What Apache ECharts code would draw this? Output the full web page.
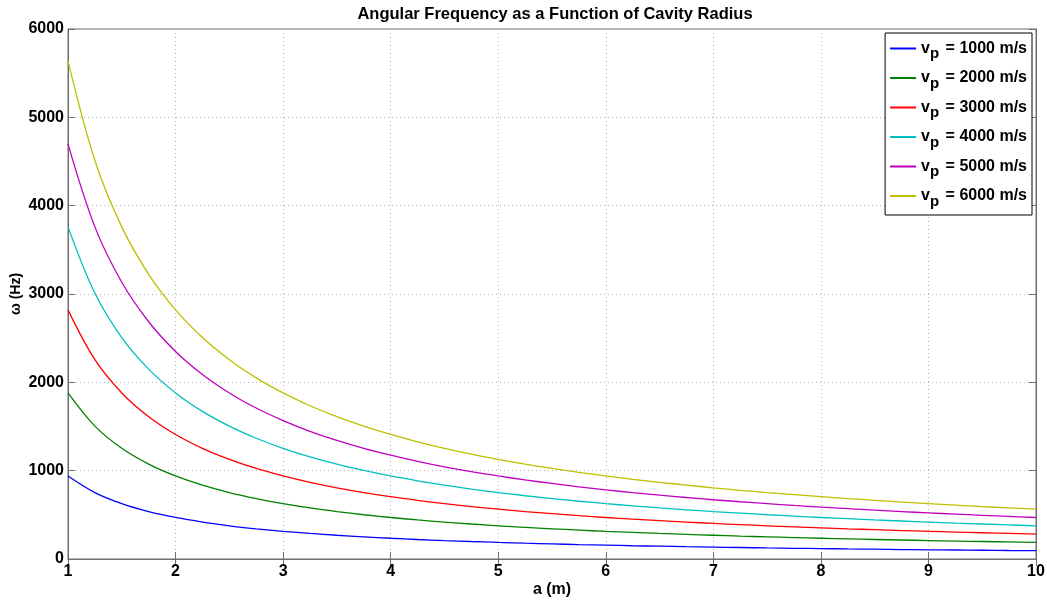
<!DOCTYPE html>
<html>
<head>
<meta charset="utf-8">
<script src="https://cdn.jsdelivr.net/npm/echarts@6/dist/echarts.min.js"></script>
<style>
html, body { margin: 0; padding: 0; background: #fff; }
#main { width: 1047px; height: 602px; }
</style>
</head>
<body>
<div id="main"></div>
<script>
// cavity radius a (m), every 0.25 m
var radius = [1, 1.25, 1.5, 1.75, 2, 2.25, 2.5, 2.75, 3, 3.25, 3.5, 3.75, 4, 4.25, 4.5, 4.75, 5, 5.25, 5.5, 5.75,
    6, 6.25, 6.5, 6.75, 7, 7.25, 7.5, 7.75, 8, 8.25, 8.5, 8.75, 9, 9.25, 9.5, 9.75, 10];
// angular frequency (Hz)
var w1000 = [940, 752, 627, 537, 470, 418, 376, 342, 313, 289, 269, 251, 235, 221, 209, 198, 188, 179, 171, 163,
    157, 150, 145, 139, 134, 130, 125, 121, 118, 114, 111, 107, 104, 102, 99, 96, 94];
var w2000 = [1880, 1504, 1253, 1074, 940, 836, 752, 684, 627, 578, 537, 501, 470, 442, 418, 396, 376, 358, 342, 327,
    313, 301, 289, 279, 269, 259, 251, 243, 235, 228, 221, 215, 209, 203, 198, 193, 188];
var w3000 = [2820, 2256, 1880, 1611, 1410, 1253, 1128, 1025, 940, 868, 806, 752, 705, 664, 627, 594, 564, 537, 513, 490,
    470, 451, 434, 418, 403, 389, 376, 364, 353, 342, 332, 322, 313, 305, 297, 289, 282];
var w4000 = [3760, 3008, 2507, 2149, 1880, 1671, 1504, 1367, 1253, 1157, 1074, 1003, 940, 885, 836, 792, 752, 716, 684, 654,
    627, 602, 578, 557, 537, 519, 501, 485, 470, 456, 442, 430, 418, 406, 396, 386, 376];
var w5000 = [4700, 3760, 3133, 2686, 2350, 2089, 1880, 1709, 1567, 1446, 1343, 1253, 1175, 1106, 1044, 989, 940, 895, 855, 817,
    783, 752, 723, 696, 671, 648, 627, 606, 588, 570, 553, 537, 522, 508, 495, 482, 470];
var w6000 = [5640, 4512, 3760, 3223, 2820, 2507, 2256, 2051, 1880, 1735, 1611, 1504, 1410, 1327, 1253, 1187, 1128, 1074, 1025, 981,
    940, 902, 868, 836, 806, 778, 752, 728, 705, 684, 664, 645, 627, 610, 594, 578, 564];

var speeds = ['1000', '2000', '3000', '4000', '5000', '6000'];
var values = [w1000, w2000, w3000, w4000, w5000, w6000];
var colors = ['#0000ff', '#008000', '#ff0000', '#00bfbf', '#bf00bf', '#bfbf00'];

var font = 'Liberation Sans, Arial, sans-serif';
var axisGray = '#6e6e6e';

function pairs(ys) {
    return radius.map(function (a, i) { return [a, ys[i]]; });
}

var series = speeds.map(function (s, i) {
    return {
        name: s,
        type: 'line',
        data: pairs(values[i]),
        showSymbol: false,
        symbol: 'none',
        smooth: 0.35,
        lineStyle: { color: colors[i], width: 1.3 },
        itemStyle: { color: colors[i] }
    };
});

var tickLabel = { color: '#000', fontFamily: font, fontWeight: 'bold', fontSize: 16 };

var chart = echarts.init(document.getElementById('main'));
chart.setOption({
    backgroundColor: '#fff',
    animation: false,
    title: {
        text: 'Angular Frequency as a Function of Cavity Radius',
        left: 550,
        textAlign: 'center',
        top: 1,
        textStyle: { color: '#000', fontFamily: font, fontWeight: 'bold', fontSize: 16.5 }
    },
    legend: {
        orient: 'vertical',
        right: 15,
        top: 33,
        padding: [5, 5, 6, 5],
        itemGap: 6,
        itemWidth: 26,
        itemHeight: 2,
        icon: 'rect',
        backgroundColor: '#fff',
        borderColor: '#000',
        borderWidth: 1,
        data: speeds,
        formatter: function (name) {
            return '{v|v}{sub|p}{v| = ' + name + ' m/s}';
        },
        textStyle: {
            rich: {
                v: { color: '#000', fontFamily: font, fontWeight: 'bold', fontSize: 16, height: 21, lineHeight: 21 },
                sub: { color: '#000', fontFamily: font, fontWeight: 'bold', fontSize: 15, height: 10, lineHeight: 10, padding: [11, 2, 0, 0] }
            }
        }
    },
    grid: {
        left: 68,
        right: 11,
        top: 29,
        bottom: 43,
        outerBoundsMode: 'none',
        show: true,
        borderColor: axisGray,
        borderWidth: 1
    },
    xAxis: [{
        type: 'value',
        min: 1,
        max: 10,
        interval: 1,
        name: 'a (m)',
        nameLocation: 'middle',
        nameGap: 23,
        nameMoveOverlap: false,
        nameTextStyle: { color: '#000', fontFamily: font, fontWeight: 'bold', fontSize: 16, verticalAlign: 'top' },
        axisLine: { show: true, onZero: false, lineStyle: { color: axisGray } },
        axisTick: { show: true, inside: true, length: 7, lineStyle: { color: axisGray } },
        axisLabel: Object.assign({ margin: 5 }, tickLabel),
        splitLine: { show: true, lineStyle: { color: '#b4b4b4', type: [1, 3] } }
    }, {
        type: 'value',
        position: 'top',
        min: 1,
        max: 10,
        interval: 1,
        axisLine: { show: true, lineStyle: { color: axisGray } },
        axisTick: { show: true, inside: true, length: 7, lineStyle: { color: axisGray } },
        axisLabel: { show: false },
        splitLine: { show: false }
    }],
    yAxis: [{
        type: 'value',
        min: 0,
        max: 6000,
        interval: 1000,
        name: 'ω (Hz)',
        nameLocation: 'middle',
        nameGap: 45,
        nameMoveOverlap: false,
        nameRotate: 90,
        nameTextStyle: { color: '#000', fontFamily: font, fontWeight: 'bold', fontSize: 14 },
        axisLine: { show: true, onZero: false, lineStyle: { color: axisGray } },
        axisTick: { show: true, inside: true, length: 7, lineStyle: { color: axisGray } },
        axisLabel: Object.assign({ margin: 4, formatter: function (v) { return String(v); } }, tickLabel),
        splitLine: { show: true, lineStyle: { color: '#b4b4b4', type: [1, 3] } }
    }, {
        type: 'value',
        position: 'right',
        min: 0,
        max: 6000,
        interval: 1000,
        axisLine: { show: true, lineStyle: { color: axisGray } },
        axisTick: { show: true, inside: true, length: 7, lineStyle: { color: axisGray } },
        axisLabel: { show: false },
        splitLine: { show: false }
    }],
    series: series
});
</script>
</body>
</html>
